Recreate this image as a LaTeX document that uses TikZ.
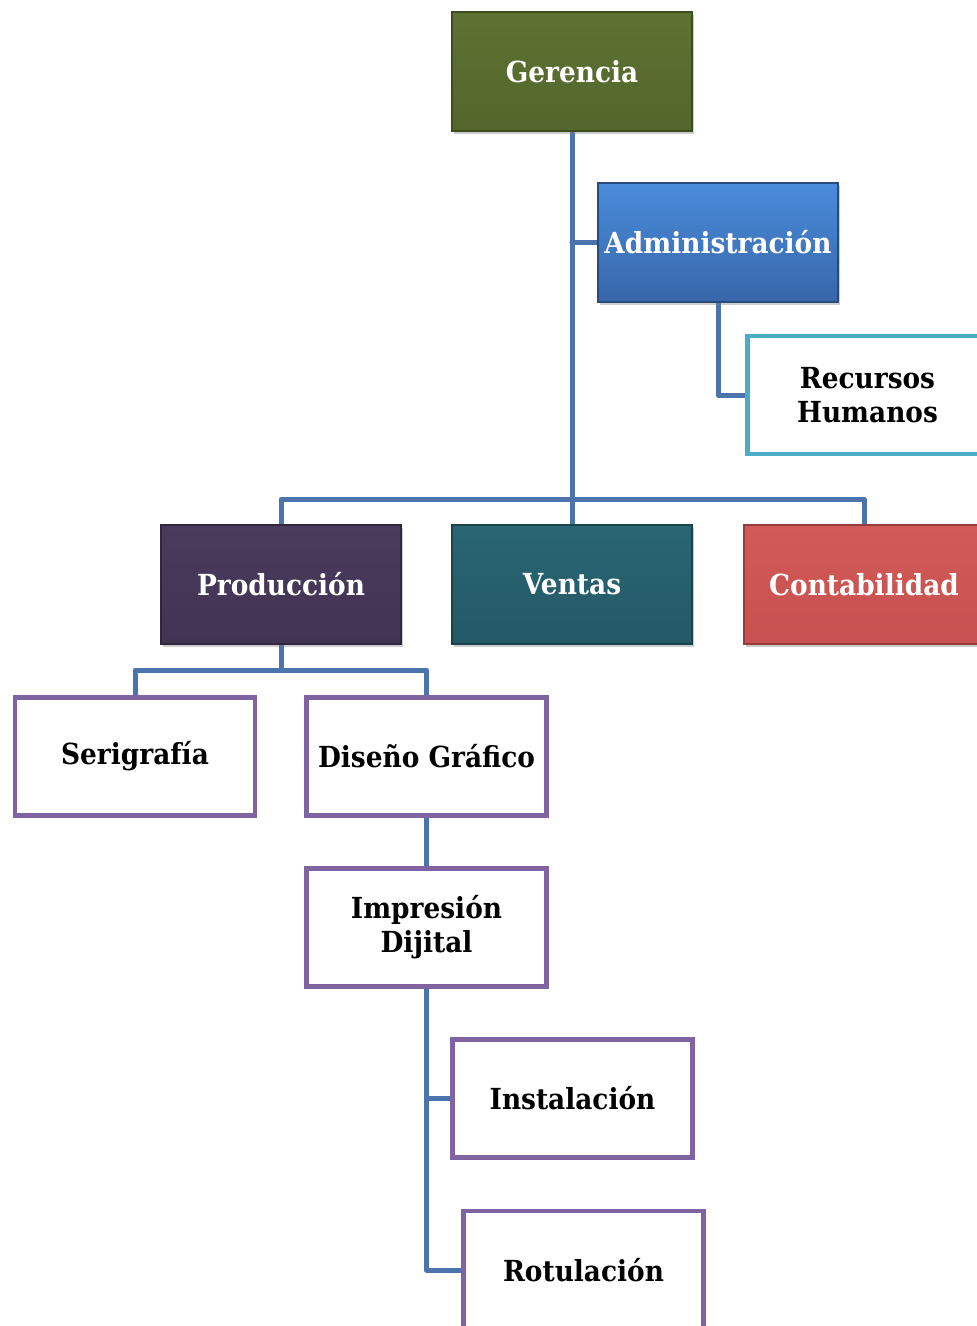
\documentclass[tikz,border=0pt]{standalone}
\usepackage{fontspec}
\setmainfont{DejaVu Serif}[FakeStretch=0.91]
\usetikzlibrary{shadows,backgrounds,calc}
\definecolor{conn}{HTML}{4A74AB}
\definecolor{purp}{HTML}{8064A2}
\definecolor{cyanb}{HTML}{4BACC6}
\definecolor{gerT}{HTML}{5E7233}\definecolor{gerB}{HTML}{54662B}
\definecolor{admT}{HTML}{4A8CDB}\definecolor{admB}{HTML}{3766A9}
\definecolor{proT}{HTML}{4A3B5D}\definecolor{proB}{HTML}{413352}
\definecolor{venT}{HTML}{2A6573}\definecolor{venB}{HTML}{235966}
\definecolor{conT}{HTML}{D25A58}\definecolor{conB}{HTML}{C75150}
\tikzset{
  x=1pt,y=-1pt,
  lbl/.style={font=\fontsize{29}{34}\selectfont\bfseries,align=center,inner sep=0pt},
  solidbox/.style={lbl,rectangle,minimum width=240pt,minimum height=119pt,text=white,
    drop shadow={opacity=0.4,shadow xshift=2pt,shadow yshift=-3pt}},
  outbox/.style={lbl,rectangle,minimum width=240pt,minimum height=118pt,line width=4.5pt,fill=white,text=black},
  wire/.style={draw=conn,line width=5pt,line cap=round,line join=round}
}
\begin{document}
\begin{tikzpicture}
\useasboundingbox (0,0) rectangle (977,1326);
\begin{scope}
\clip (0,0) rectangle (977,1326);
\node[solidbox,top color=gerT,bottom color=gerB,draw=gerB!75!black,line width=1.5pt] (ger) at (572,71.5) {Gerencia};
\node[solidbox,top color=admT,bottom color=admB,draw=admB!75!black,line width=1.5pt] (adm) at (718,242.5) {Administración};
\node[outbox,draw=cyanb] (rh) at (867.5,395) {Recursos\\Humanos};
\node[solidbox,top color=proT,bottom color=proB,draw=proB!75!black,line width=1.5pt] (pro) at (281,584.5) {Producción};
\node[solidbox,top color=venT,bottom color=venB,draw=venB!75!black,line width=1.5pt] (ven) at (572,584.5) {Ventas};
\node[solidbox,top color=conT,bottom color=conB,draw=conB!75!black,line width=1.5pt] (con) at (864,584.5) {Contabilidad};
\node[outbox,draw=purp] (ser) at (135,756.5) {Serigrafía};
\node[outbox,draw=purp] (dis) at (426.5,756.5) {Diseño Gráfico};
\node[outbox,draw=purp] (imp) at (426.5,927.5) {Impresión\\Dijital};
\node[outbox,draw=purp] (ins) at (572.5,1098.5) {Instalación};
\node[outbox,draw=purp] (rot) at (583.5,1270) {Rotulación};
\coordinate (bus) at (0,499);
\coordinate (pbus) at (0,670);
\begin{scope}[on background layer]
\fill[white] (0,0) rectangle (977,1326);
\draw[wire] (ger.south) -- (ven.north);
\draw[wire] (ger.south |- adm.west) -- (adm.west);
\draw[wire] (adm.south) |- (rh.west);
\draw[wire] (pro.north) |- (bus -| ven.north) -| (con.north);
\draw[wire] (pro.south) -- (pbus -| pro.south);
\draw[wire] (ser.north) |- (pbus -| pro.south) -| (dis.north);
\draw[wire] (dis.south) -- (imp.north);
\draw[wire] (imp.south) |- (ins.west);
\draw[wire] (imp.south) |- (rot.west);
\end{scope}
\end{scope}
\end{tikzpicture}
\end{document}
